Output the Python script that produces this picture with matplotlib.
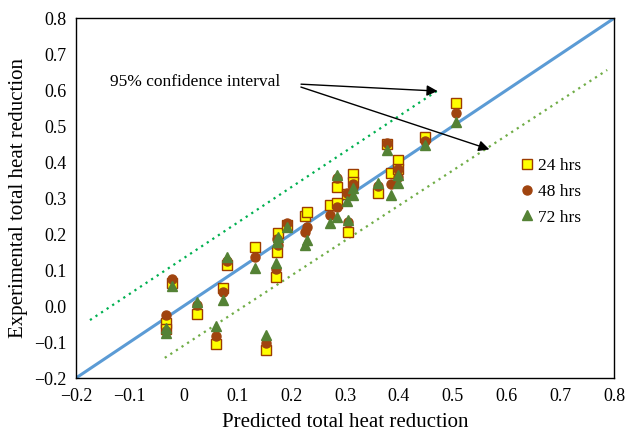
import matplotlib.pyplot as plt
import matplotlib

matplotlib.rcParams['font.family'] = ['Liberation Serif']

# predicted values and measured values for each test duration
pred = [-0.033, -0.033, -0.022, 0.024, 0.060, 0.073, 0.080, 0.133, 0.153,
        0.175, 0.173, 0.172, 0.193, 0.226, 0.229, 0.272, 0.285, 0.285,
        0.303, 0.306, 0.315, 0.315, 0.362, 0.377, 0.386, 0.399, 0.399,
        0.449, 0.506]
hrs24 = [-0.047, -0.065, 0.064, -0.022, -0.106, 0.049, 0.114, 0.165, -0.122,
         0.204, 0.151, 0.080, 0.225, 0.251, 0.261, 0.281, 0.287, 0.330,
         0.310, 0.206, 0.366, 0.345, 0.313, 0.450, 0.370, 0.406, 0.380,
         0.469, 0.565]
hrs48 = [-0.025, -0.070, 0.075, 0.003, -0.083, 0.040, 0.126, 0.137, -0.104,
         0.169, 0.185, 0.102, 0.231, 0.206, 0.220, 0.253, 0.276, 0.355,
         0.313, 0.234, 0.340, 0.330, 0.335, 0.454, 0.339, 0.380, 0.360,
         0.460, 0.537]
hrs72 = [-0.075, -0.060, 0.056, 0.012, -0.056, 0.017, 0.137, 0.105, -0.081,
         0.193, 0.179, 0.119, 0.219, 0.169, 0.183, 0.230, 0.248, 0.364,
         0.292, 0.240, 0.327, 0.308, 0.341, 0.433, 0.308, 0.364, 0.341,
         0.447, 0.512]

# confidence interval lines (end points)
upper_x = [-0.174, 0.473]
upper_y = [-0.039, 0.600]
lower_x = [-0.035, 0.787]
lower_y = [-0.144, 0.656]

fig = plt.figure(figsize=(6.28, 4.33), dpi=100)
ax = fig.add_axes([0.121, 0.127, 0.857, 0.831])

ax.plot([-0.2, 0.8], [-0.2, 0.8], color='#5B9BD5', lw=2.2, zorder=1)
ax.plot(upper_x, upper_y, color='#00B050', lw=1.6, ls=(0, (1, 2)), zorder=1)
ax.plot(lower_x, lower_y, color='#70AD47', lw=1.6, ls=(0, (1, 2)), zorder=1)

ax.plot(pred, hrs24, 's', ms=6.5, mfc='#FFFF00', mec='#9C3C00', mew=1.0,
        label='24 hrs', ls='none', zorder=3)
ax.plot(pred, hrs48, 'o', ms=6.5, mfc='#A0440F', mec='#A0440F',
        label='48 hrs', ls='none', zorder=3)
ax.plot(pred, hrs72, '^', ms=7, mfc='#548235', mec='#548235',
        label='72 hrs', ls='none', zorder=3)

ax.text(0.021, 0.622, '95% confidence interval', fontsize=12.5,
        ha='center', va='center')
ax.annotate('', xy=(0.477, 0.597), xytext=(0.213, 0.617),
            arrowprops=dict(arrowstyle='-|>', color='black', lw=1.0,
                            mutation_scale=16))
ax.annotate('', xy=(0.573, 0.433), xytext=(0.213, 0.611),
            arrowprops=dict(arrowstyle='-|>', color='black', lw=1.0,
                            mutation_scale=16))

ax.set_xlim(-0.2, 0.8)
ax.set_ylim(-0.2, 0.8)
ax.set_xticks([-0.2, -0.1, 0, 0.1, 0.2, 0.3, 0.4, 0.5, 0.6, 0.7, 0.8])
ax.set_yticks([-0.2, -0.1, 0, 0.1, 0.2, 0.3, 0.4, 0.5, 0.6, 0.7, 0.8])
ax.set_xticklabels(['\u22120.2', '\u22120.1', '0', '0.1', '0.2', '0.3',
                    '0.4', '0.5', '0.6', '0.7', '0.8'])
ax.set_yticklabels(['\u22120.2', '\u22120.1', '0.0', '0.1', '0.2', '0.3',
                    '0.4', '0.5', '0.6', '0.7', '0.8'])
ax.tick_params(labelsize=13, length=0, pad=7)
for s in ax.spines.values():
    s.set_color('black')
    s.set_linewidth(1.0)

ax.set_xlabel('Predicted total heat reduction', fontsize=15, labelpad=6)
ax.set_ylabel('Experimental total heat reduction', fontsize=15, labelpad=4)

ax.legend(loc='upper left', bbox_to_anchor=(0.79, 0.655), frameon=False,
          fontsize=12.5, handletextpad=0.0, handlelength=1.2,
          labelspacing=0.55)

plt.savefig('out.png', dpi=100)
